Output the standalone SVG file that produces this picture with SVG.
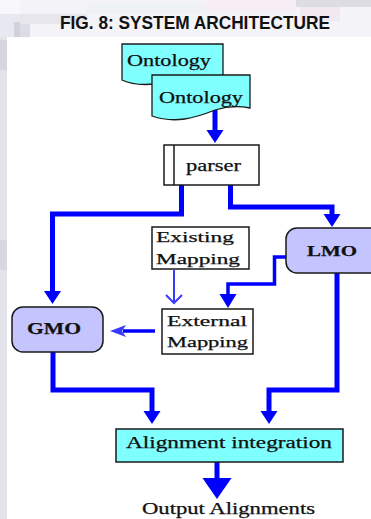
<svg xmlns="http://www.w3.org/2000/svg" width="371" height="519" viewBox="0 0 371 519">
  <style>
    .lbl { font-family: "Liberation Serif", "DejaVu Serif", serif; fill: #111; stroke: #111; stroke-width: 0.25; }
    .bold { font-weight: bold; }
    .box { stroke: #1a1a1a; stroke-width: 1.5; }
    .doc { fill: #80ffff; stroke: #1a1a1a; stroke-width: 1.3; }
    .cyan { fill: #80ffff; }
    .lav { fill: #c4c4ff; }
    .white { fill: #ffffff; }
    .wire { fill: none; stroke: #0000ff; stroke-width: 5; stroke-linejoin: miter; }
    .wire-mid { fill: none; stroke: #0000ff; stroke-width: 3.5; }
    .wire-thin { fill: none; stroke: #3a3aff; stroke-width: 2; }
  </style>
  <defs>
    <marker id="head" markerUnits="userSpaceOnUse" markerWidth="20" markerHeight="20" viewBox="0 -10 14 20" refX="0" refY="0" orient="auto">
      <path d="M0,-8.5 L13,0 L0,8.5 Z" fill="#0000ff"/>
    </marker>
    <marker id="head-big" markerUnits="userSpaceOnUse" markerWidth="24" markerHeight="32" viewBox="0 -16 24 32" refX="0" refY="0" orient="auto">
      <path d="M0,-14.5 L21,0 L0,14.5 Z" fill="#0000ff"/>
    </marker>
    <marker id="head-mid" markerUnits="userSpaceOnUse" markerWidth="16" markerHeight="20" viewBox="0 -10 16 20" refX="0" refY="0" orient="auto">
      <path d="M0,-8.5 L14,0 L0,8.5 Z" fill="#0000ff"/>
    </marker>
    <marker id="head-notch" markerUnits="userSpaceOnUse" markerWidth="18" markerHeight="14" viewBox="-4 -7 18 14" refX="0" refY="0" orient="auto">
      <path d="M-3,-6 L13,0 L-3,6 L1,0 Z" fill="#3a3aff"/>
    </marker>
  </defs>

  <!-- page backdrop -->
  <rect x="0" y="0" width="371" height="519" fill="#ffffff"/>
  <rect x="0" y="0" width="371" height="37" fill="#f3f3f8"/>
  <rect x="0" y="37" width="7" height="482" fill="#e3e3ec"/>
  <rect x="0" y="0" width="20" height="14" fill="#f8f8fc"/>
  <rect x="0" y="14" width="20" height="23" fill="#e8e8f0"/>
  <rect x="20" y="14" width="66" height="10" fill="#e6e6ec"/>
  <rect x="20" y="24" width="10" height="13" fill="#dcdce4"/>
  <rect x="14" y="22" width="6" height="15" fill="#d2d2dc"/>
  <rect x="0" y="40" width="7" height="30" fill="#d6d6e0"/>
  <rect x="0" y="240" width="7" height="30" fill="#d8d8e2"/>
  <rect x="86" y="4" width="120" height="10" fill="#eef2f2"/>
  <rect x="206" y="0" width="90" height="12" fill="#f6eef4"/>
  <rect x="296" y="0" width="75" height="7" fill="#dcdce2"/>
  <rect x="300" y="7" width="40" height="14" fill="#f2e8f0"/>

  <!-- title -->
  <text x="60" y="29" font-family="'Liberation Sans', Arial, sans-serif" font-weight="bold" font-size="18.5" fill="#111" textLength="270" lengthAdjust="spacingAndGlyphs">FIG. 8: SYSTEM ARCHITECTURE</text>

  <!-- connectors -->
  <g id="connectors">
    <polyline class="wire" points="215,110 215,130" marker-end="url(#head)"/>
    <polyline class="wire" points="181.5,185 181.5,214 52.5,214 52.5,291" marker-end="url(#head)"/>
    <polyline class="wire" points="230.5,185 230.5,207 332,207 332,214" marker-end="url(#head)"/>
    <polyline class="wire-mid" points="286,257 274.5,257 274.5,284 228,284 228,294" marker-end="url(#head-mid)"/>
    <polyline class="wire-thin" points="174,270 174,303"/>
    <polyline class="wire-thin" points="166,295 174,303 182,295"/>
    <polyline class="wire-mid" points="155,331 123,331" marker-end="url(#head-notch)"/>
    <polyline class="wire" points="53,352 53,390 152,390 152,411" marker-end="url(#head)"/>
    <polyline class="wire" points="337,273 337,390 269,390 269,411" marker-end="url(#head)"/>
    <polyline class="wire" points="217,462 217,478" marker-end="url(#head-big)"/>
  </g>

  <!-- input ontology documents -->
  <g id="ontology-1">
    <path class="doc" d="M122,44 H223 V80 C205,76 190,76 170,81 C150,86 135,86 122,80 Z"/>
    <text class="lbl" x="127" y="66" font-size="16" textLength="84" lengthAdjust="spacingAndGlyphs">Ontology</text>
  </g>
  <g id="ontology-2">
    <path class="doc" d="M152,75 H250 V108 C240,106 228,106 215,110 C195,118 175,124 152,116 Z"/>
    <text class="lbl" x="159" y="103" font-size="16" textLength="84" lengthAdjust="spacingAndGlyphs">Ontology</text>
  </g>

  <!-- parser -->
  <g id="parser">
    <rect class="box white" x="164" y="145" width="95" height="40"/>
    <line x1="174" y1="145" x2="174" y2="185" stroke="#1a1a1a" stroke-width="1.5"/>
    <text class="lbl" x="186" y="171" font-size="16" textLength="55" lengthAdjust="spacingAndGlyphs">parser</text>
  </g>

  <!-- local mapping ontology -->
  <g id="lmo">
    <rect class="box lav" x="286" y="228" width="100" height="45" rx="11" ry="11"/>
    <text class="lbl bold" x="307" y="256" font-size="15" textLength="50" lengthAdjust="spacingAndGlyphs">LMO</text>
  </g>

  <!-- existing mapping -->
  <g id="existing-mapping">
    <rect class="box white" x="152" y="227" width="97" height="42"/>
    <text class="lbl" x="156" y="242" font-size="15" textLength="78" lengthAdjust="spacingAndGlyphs">Existing</text>
    <text class="lbl" x="156" y="264" font-size="15" textLength="84" lengthAdjust="spacingAndGlyphs">Mapping</text>
  </g>

  <!-- external mapping -->
  <g id="external-mapping">
    <rect class="box white" x="162" y="309" width="91" height="45"/>
    <text class="lbl" x="167" y="326" font-size="15" textLength="80" lengthAdjust="spacingAndGlyphs">External</text>
    <text class="lbl" x="167" y="347" font-size="15" textLength="81" lengthAdjust="spacingAndGlyphs">Mapping</text>
  </g>

  <!-- global mapping ontology -->
  <g id="gmo">
    <rect class="box lav" x="12" y="307" width="91" height="45" rx="11" ry="11"/>
    <text class="lbl bold" x="27" y="334" font-size="16" textLength="54" lengthAdjust="spacingAndGlyphs">GMO</text>
  </g>

  <!-- alignment integration -->
  <g id="alignment-integration">
    <rect class="box cyan" x="116" y="429" width="227" height="33"/>
    <text class="lbl" x="126" y="448" font-size="16" textLength="206" lengthAdjust="spacingAndGlyphs">Alignment integration</text>
  </g>

  <!-- final output -->
  <g id="output">
    <text class="lbl" x="142" y="514" font-size="16" textLength="173" lengthAdjust="spacingAndGlyphs">Output Alignments</text>
  </g>
</svg>
